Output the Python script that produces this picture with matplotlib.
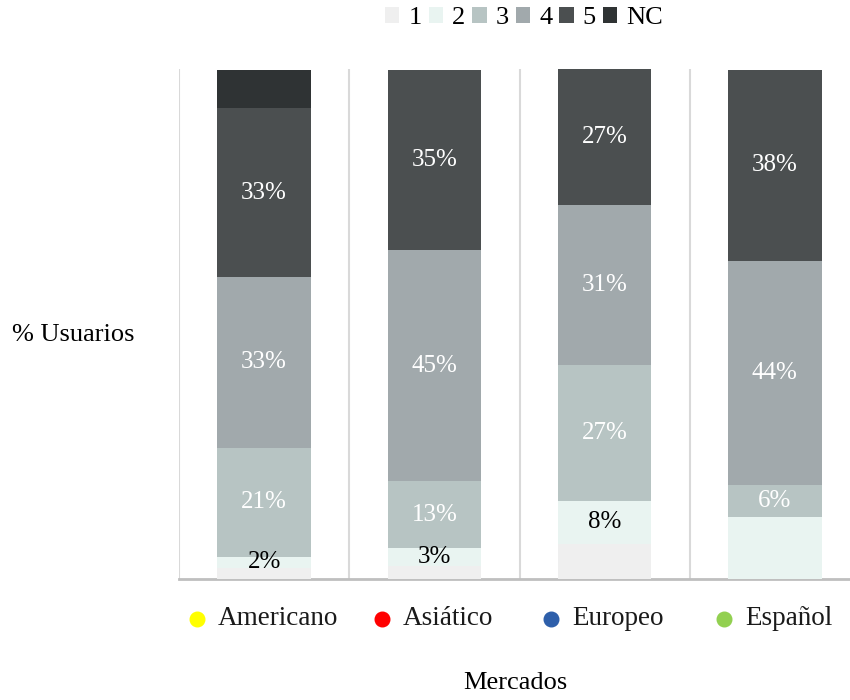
import matplotlib.pyplot as plt
import numpy as np

plt.rcParams['font.family'] = ['Liberation Serif', 'DejaVu Serif']

mercados = ['Americano', 'Asiático', 'Europeo', 'Español']
marker_colors = ['#FFFF00', '#FF0000', '#2E5FAA', '#92D050']

series = ['1', '2', '3', '4', '5', 'NC']
valores = {
    '1':  [2.2, 2.6, 6.9, 0.0],
    '2':  [2.2, 3.4, 8.4, 12.2],
    '3':  [21.4, 13.2, 26.7, 6.3],
    '4':  [33.4, 45.4, 31.4, 43.9],
    '5':  [33.3, 35.4, 26.7, 37.6],
    'NC': [7.5, 0.0, 0.0, 0.0],
}
# which segments carry a percentage label
etiquetas = {
    '1':  [False, False, False, False],
    '2':  [True, True, True, False],
    '3':  [True, True, True, True],
    '4':  [True, True, True, True],
    '5':  [True, True, True, True],
    'NC': [False, False, False, False],
}
colores = ['#EFEFEF', '#E9F4F1', '#B7C4C3', '#A1A9AC', '#4B4F50', '#2F3334']
color_texto = ['black', 'black', 'white', 'white', 'white', 'white']

W, H = 850, 700
fig = plt.figure(figsize=(W / 100, H / 100), dpi=100)
ax = fig.add_axes([179 / W, 1 - 579 / H, 681 / W, 510 / H])

x = np.arange(len(mercados))
bottom = np.zeros(len(mercados))
handles = []
for s, c, tc in zip(series, colores, color_texto):
    v = np.array(valores[s])
    b = ax.bar(x, v, 0.55, bottom=bottom, color=c, zorder=3, label=s)
    handles.append(b)
    for i in range(len(mercados)):
        if etiquetas[s][i] and v[i] > 0:
            ax.text(x[i], bottom[i] + v[i] / 2, f'{v[i]:.0f}%', ha='center',
                    va='center', color=tc, fontsize=18, zorder=4)
    bottom += v

ax.set_xlim(-0.5, len(mercados) - 0.5)
ax.set_ylim(0, bottom.max())
for k in range(len(mercados)):
    ax.axvline(k - 0.5, color='#D9D9D9', lw=1.5, zorder=1)
for sp in ['top', 'right', 'left']:
    ax.spines[sp].set_visible(False)
ax.spines['bottom'].set_color('#BFBFBF')
ax.spines['bottom'].set_linewidth(2)
ax.set_xticks([])
ax.set_yticks([])

# category labels with coloured dot in front
fig.canvas.draw()
r = fig.canvas.get_renderer()
trans = ax.get_xaxis_transform()
for i, (m, mc) in enumerate(zip(mercados, marker_colors)):
    t = ax.text(x[i] + 0.08, -0.078, m, transform=trans, ha='center', va='center',
                fontsize=19.5, color='#1a1a1a')
    bb = t.get_window_extent(renderer=r)
    xd = ax.transData.inverted().transform((bb.x0 - 21, 0))[0]
    ax.plot([xd], [-0.078], 'o', color=mc, ms=10.5, transform=trans, clip_on=False)

fig.text(515 / W, 1 - 683 / H, 'Mercados', ha='center', va='center', fontsize=19)
fig.text(12 / W, 1 - 335 / H, '% Usuarios', ha='left', va='center', fontsize=19)

fig.legend(handles=handles, labels=series, loc='center', ncol=6,
           bbox_to_anchor=(524 / W, 1 - 18 / H), frameon=False, fontsize=19,
           handlelength=0.55, handleheight=0.55, handletextpad=0.35,
           columnspacing=0.25, borderpad=0)

fig.savefig('out.png', dpi=100)
